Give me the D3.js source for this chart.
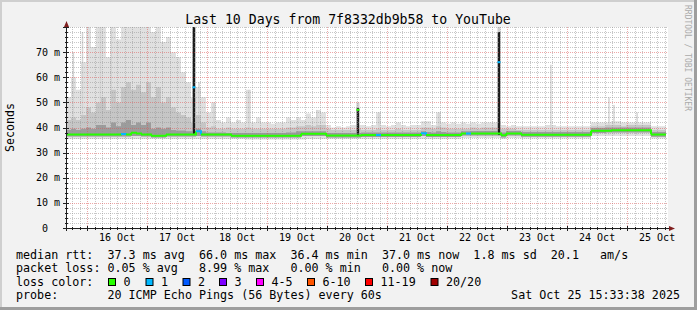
<!DOCTYPE html>
<html>
<head>
<meta charset="utf-8">
<script src="https://cdn.jsdelivr.net/npm/d3@7"></script>
<style>
  html, body { margin: 0; padding: 0; background: #f2f2f2; }
  svg { display: block; }
  text { font-family: "DejaVu Sans Mono", monospace; fill: #000; white-space: pre; }
</style>
</head>
<body>
<svg id="chart" width="697" height="310"></svg>
<script>
// ---- data (2 h buckets, 10 days ending Sat Oct 25 15:33:38 2025) ----
const endTime = new Date(2025, 9, 25, 15, 33, 38);
const bucketHours = 2;

// median rtt, ms
const medianRtt = [
  37.2, 37.2, 37.2, 37.2, 37.2, 37.2, 37.2, 37.2, 37.2, 37.2, 37.2, 37.4,
  37.2, 37.9, 37.6, 37.2, 37.2, 36.7, 36.7, 36.7, 37.2, 37.2, 37.2, 37.2,
  37.2, 37.2, 38.5, 37.2, 37.2, 37.2, 37.2, 37.2, 37.2, 36.7, 36.7, 36.7,
  36.7, 36.7, 36.7, 36.7, 36.7, 36.7, 36.7, 36.7, 36.7, 36.7, 36.7, 37.5,
  37.5, 37.5, 37.5, 37.5, 36.8, 36.8, 36.8, 36.8, 36.8, 36.8, 36.8, 37.0,
  37.0, 37.0, 37.0, 37.0, 37.0, 37.0, 37.0, 37.0, 37.0, 37.0, 37.0, 37.7,
  37.0, 37.0, 37.0, 37.0, 37.0, 37.0, 37.0, 37.6, 37.6, 37.6, 37.6, 37.6,
  37.6, 37.6, 37.6, 36.9, 37.6, 37.6, 37.6, 37.1, 37.1, 37.1, 37.1, 37.1,
  37.1, 37.1, 37.1, 37.1, 37.1, 37.1, 37.1, 37.1, 37.1, 38.7, 38.7, 38.7,
  38.7, 38.9, 38.9, 38.9, 38.9, 38.9, 38.9, 38.9, 38.9, 37.2, 37.2, 37.2
];

// lost pings per bucket (index into lossLabels)
const lossClass = [
  0, 0, 0, 0, 0, 0, 0, 0, 0, 0, 0, 1,
  0, 0, 0, 0, 0, 0, 0, 0, 0, 0, 0, 0,
  0, 0, 1, 0, 0, 0, 0, 0, 0, 0, 0, 0,
  0, 0, 0, 0, 0, 0, 0, 0, 0, 0, 0, 0,
  0, 0, 0, 0, 0, 0, 0, 0, 0, 0, 0, 0,
  0, 0, 1, 0, 0, 0, 0, 0, 0, 0, 0, 1,
  0, 0, 0, 0, 0, 0, 0, 0, 1, 0, 0, 0,
  0, 0, 0, 0, 0, 0, 0, 0, 0, 0, 0, 0,
  0, 0, 0, 0, 0, 0, 0, 0, 0, 0, 0, 0,
  0, 0, 0, 0, 0, 0, 0, 0, 0, 0, 0, 0
];

// smoke: slowest ping
const smokeMax = [
  52, 60, 55, 66, 80, 72, 80, 80, 68, 80, 75, 80,
  80, 80, 80, 80, 80, 78, 80, 74, 76, 70, 68, 62,
  58, 52, 56, 52, 46, 50, 43, 42, 44, 42, 43, 42,
  55, 42, 44, 42, 42, 41.5, 42, 42, 44, 43, 44, 43,
  45.6, 44, 47, 46, 41, 40, 40.5, 40, 40.5, 41, 41, 41,
  40.5, 41, 46, 41, 40.5, 41, 42, 41, 40.5, 41, 41, 42.5,
  42.5, 41, 46, 42, 41.5, 42, 41.5, 42, 41.5, 42, 41.5, 42,
  42, 42, 42, 41, 40.5, 41, 40.5, 40.5, 40.5, 40.5, 40.5, 40.5,
  41, 41, 40.5, 40.5, 40.5, 40.5, 40.5, 40.5, 40.5, 42, 42, 42,
  42, 42.5, 42.5, 42, 42, 42, 42, 42, 42, 40.5, 40.5, 40.5
];

// smoke: upper outer band
const smokeHigh = [
  43, 44, 43, 45, 48, 46, 50, 52, 47, 55, 50, 56,
  58, 55, 57, 54, 58, 52, 56, 50, 52, 48, 46, 45,
  44, 42, 45, 42, 40, 40.5, 39.5, 39.5, 40, 39.5, 39.5, 39.5,
  40, 39.5, 39.5, 39.5, 39.5, 39.5, 39.5, 39.5, 40, 40, 40.5, 40.5,
  41, 40.5, 41, 41, 39.5, 39, 39, 39, 39, 39, 39.5, 39,
  39, 39, 39.5, 39, 39, 39, 39.5, 39, 39, 39, 39, 40,
  40, 39.5, 40.5, 40, 39.5, 39.5, 39.5, 39.5, 39.5, 40, 39.5, 40,
  40, 40, 40, 39.5, 39.5, 39.5, 39, 39, 39, 39, 39, 39,
  39, 39, 39, 39, 39, 39, 39, 39, 39, 40.5, 40.5, 40.5,
  41, 41, 41, 40.5, 41, 41, 41, 41, 41, 39, 39, 39
];

// smoke: dense band around the median
const smokeUpper = [
  39, 39.5, 39, 39.5, 40, 39.5, 41, 41, 40, 42, 40.5, 42,
  43, 41, 42, 41, 42, 39.5, 40, 39.5, 40, 39, 38.8, 38.8,
  38.5, 38.5, 39.5, 38.5, 38, 38, 38, 38, 37.8, 37.8, 37.8, 37.8,
  37.8, 37.8, 37.8, 37.8, 37.8, 37.8, 37.8, 37.8, 38, 38, 38.5, 38.5,
  38.5, 38.5, 38.5, 38.5, 37.8, 37.8, 37.8, 37.8, 37.8, 37.8, 37.8, 38,
  38, 38, 38, 38, 38, 38, 38, 38, 38, 38, 38, 38.5,
  38.2, 38, 38.5, 38.2, 38, 38, 38, 38.5, 38.5, 38.6, 38.6, 38.6,
  38.6, 38.6, 38.6, 38, 38.6, 38.6, 38.6, 38.2, 38.2, 38.2, 38.2, 38.2,
  38.2, 38.2, 38.2, 38.2, 38.2, 38.2, 38.2, 38.2, 38.2, 39.8, 39.8, 39.8,
  40, 40, 40, 40, 40, 40, 40, 40, 40, 38.2, 38.2, 38.2
];

const smokeLower = [
  36.4, 36.4, 36.4, 36.4, 36.4, 36.4, 36.4, 36.4, 36.4, 36.4, 36.4, 36.4,
  36.4, 36.6, 36.6, 36.4, 36.4, 36, 36, 36, 36.4, 36.4, 36.4, 36.4,
  36.4, 36.4, 36.6, 36.4, 36.4, 36.4, 36.4, 36.4, 36.4, 36, 36, 36,
  36, 36, 36, 36, 36, 36, 36, 36, 36, 36, 36, 36.6,
  36.6, 36.6, 36.6, 36.6, 36, 36, 36, 36, 36, 36, 36, 36.2,
  36.2, 36.2, 36.2, 36.2, 36.2, 36.2, 36.2, 36.2, 36.2, 36.2, 36.2, 36.6,
  36.2, 36.2, 36.2, 36.2, 36.2, 36.2, 36.2, 36.8, 36.8, 36.8, 36.8, 36.8,
  36.8, 36.8, 36.8, 36, 36.8, 36.8, 36.8, 36.3, 36.3, 36.3, 36.3, 36.3,
  36.3, 36.3, 36.3, 36.3, 36.3, 36.3, 36.3, 36.3, 36.3, 37.8, 37.8, 37.8,
  38, 38, 38, 38, 38, 38, 38, 38, 38, 36.3, 36.3, 36.3
];

// smoke: fastest ping
const smokeMin = [
  35.4, 35.4, 35.4, 35.4, 35.4, 35.4, 35.4, 35.4, 35.4, 35.4, 35.4, 35.4,
  35.4, 35.4, 35.4, 35.4, 35.4, 35.4, 35.4, 35.4, 35.4, 35.4, 35.4, 35.4,
  35.4, 35.4, 35.4, 35.4, 35.4, 35.4, 35.4, 35.4, 35.4, 35.4, 35.4, 35.4,
  35.2, 35.2, 35.2, 35.2, 35.2, 35.2, 35.2, 35.2, 35.2, 35.2, 35.2, 35.2,
  35.4, 35.4, 35.4, 35.4, 35.4, 35.4, 35.4, 35.4, 35.4, 35.4, 35.4, 35.4,
  35.4, 35.4, 35.4, 35.4, 35.4, 35.4, 35.4, 35.4, 35.4, 35.4, 35.4, 35.4,
  35.4, 35.4, 35.4, 35.4, 35.4, 35.4, 35.4, 35.8, 35.8, 35.8, 35.8, 35.8,
  35.8, 35.8, 35.8, 35.4, 35.8, 35.8, 35.8, 35.6, 35.6, 35.6, 35.6, 35.6,
  35.6, 35.6, 35.6, 35.6, 35.6, 35.6, 35.6, 35.6, 35.6, 36.6, 36.6, 36.6,
  36.6, 36.6, 36.6, 36.6, 36.6, 36.6, 36.6, 36.6, 36.6, 35.6, 35.6, 35.6
];

// short bursts where all pings were slow
const spikeTimes = ["2025-10-17T18:45", "2025-10-20T12:20", "2025-10-22T20:45"];
const spikeDarkTop = [80, 47.7, 78];
const spikeLightTop = [80, 50, 80];
const spikeMedian = [56, 47, 66];
const spikeLoss = [1, 0, 1];

// single slow pings
const streakTimes = [
  "2025-10-15T18:30", "2025-10-15T22:10", "2025-10-16T05:20", "2025-10-16T09:40",
  "2025-10-17T20:45", "2025-10-18T02:45", "2025-10-18T16:45", "2025-10-19T19:55",
  "2025-10-20T20:45", "2025-10-21T20:45", "2025-10-23T17:30", "2025-10-24T16:45",
  "2025-10-24T18:45", "2025-10-25T04:00"
];
const streakTops = [70, 78, 80, 80, 58, 50, 55, 47, 46, 46, 65, 52, 49, 46];

const yTicks = [0, 10, 20, 30, 40, 50, 60, 70];

const lossLabels = ["0", "1", "2", "3", "4-5", "6-10", "11-19", "20/20"];
const lossColors = ["#26ff00", "#00b8ff", "#0059ff", "#7e00ff", "#ff00ff", "#ff5500", "#ff0000", "#a00000"];

const legendLines = [
  "median rtt:  37.3 ms avg  66.0 ms max  36.4 ms min  37.0 ms now  1.8 ms sd  20.1   am/s",
  "packet loss: 0.05 % avg   8.99 % max   0.00 % min   0.00 % now",
  "loss color:",
  "probe:       20 ICMP Echo Pings (56 Bytes) every 60s"
];
const stampText = "Sat Oct 25 15:33:38 2025";
const titleText = "Last 10 Days from 7f8332db9b58 to YouTube";

// ---- setup ----
const W = 697, H = 310;
const plotL = 66, plotR = 666, plotT = 27, plotB = 228;
const startTime = d3.timeDay.offset(endTime, -10);
const parse = d3.timeParse("%Y-%m-%dT%H:%M");

const x = d3.scaleTime().domain([startTime, endTime]).range([plotL, plotR]);
const y = d3.scaleLinear().domain([0, 80]).range([plotB, plotT]);
const bucketTime = (i) => d3.timeHour.offset(startTime, i * bucketHours);

const svg = d3.select("#chart");

// frame, rrdtool style
svg.append("rect").attr("width", W).attr("height", H).attr("fill", "#f2f2f2");
svg.append("rect").attr("x", 0).attr("y", 0).attr("width", W).attr("height", 2).attr("fill", "#cfcfcf");
svg.append("rect").attr("x", 0).attr("y", 0).attr("width", 2).attr("height", H).attr("fill", "#cfcfcf");
svg.append("rect").attr("x", 0).attr("y", H - 3).attr("width", W).attr("height", 3).attr("fill", "#9e9e9e");
svg.append("rect").attr("x", W - 3).attr("y", 0).attr("width", 3).attr("height", H).attr("fill", "#9e9e9e");

svg.append("rect")
  .attr("x", plotL).attr("y", plotT)
  .attr("width", plotR - plotL + 2).attr("height", plotB - plotT)
  .attr("fill", "#fff");

svg.append("clipPath").attr("id", "plotClip")
  .append("rect")
  .attr("x", plotL).attr("y", plotT)
  .attr("width", plotR - plotL).attr("height", plotB - plotT);

const plot = svg.append("g").attr("clip-path", "url(#plotClip)");

function band(lo, hi, fill) {
  const idx = d3.range(lo.length + 1);
  const at = (arr, i) => arr[Math.min(i, arr.length - 1)];
  const area = d3.area()
    .curve(d3.curveStepAfter)
    .x((i) => x(bucketTime(i)))
    .y0((i) => y(at(lo, i)))
    .y1((i) => y(Math.min(at(hi, i), 81)));
  plot.append("path").attr("d", area(idx)).attr("fill", fill);
}

// smoke layers, lightest first
band(smokeMin, smokeMax, "#e0e0e0");

plot.append("g").selectAll("rect")
  .data(streakTimes.map((t, i) => ({ t: parse(t), top: streakTops[i] })))
  .join("rect")
  .attr("x", (d) => x(d.t) - 0.75)
  .attr("width", 1.5)
  .attr("y", (d) => y(d.top))
  .attr("height", (d) => y(37) - y(d.top))
  .attr("fill", "#d4d4d4");

band(smokeLower, smokeHigh, "#c6c6c6");
band(smokeLower, smokeUpper, "#9c9c9c");

const spikes = spikeTimes.map((t, i) => ({
  t: parse(t), dark: spikeDarkTop[i], light: spikeLightTop[i],
  med: spikeMedian[i], loss: spikeLoss[i]
}));

plot.append("g").selectAll("rect")
  .data(spikes)
  .join("rect")
  .attr("x", (d) => x(d.t) - 1.5)
  .attr("width", 3)
  .attr("y", (d) => y(Math.min(d.light, 81)))
  .attr("height", (d) => y(37) - y(Math.min(d.light, 81)))
  .attr("fill", "#cfcfcf");

plot.append("g").selectAll("rect")
  .data(spikes)
  .join("rect")
  .attr("x", (d) => x(d.t) - 1.2)
  .attr("width", 2.4)
  .attr("y", (d) => y(Math.min(d.dark, 81)))
  .attr("height", (d) => y(37) - y(Math.min(d.dark, 81)))
  .attr("fill", "#1c1c1c");

// grid on top of the smoke
const grid = svg.append("g").attr("fill", "none").attr("stroke-dasharray", "1,1");
const minorY = d3.range(2, 81, 2).filter((v) => v % 10 !== 0 || v === 80);
const majorY = yTicks.filter((v) => v > 0);
const crisp = (v) => Math.round(v) + 0.5;

grid.selectAll("line.minor-y")
  .data(minorY)
  .join("line")
  .attr("class", "minor-y")
  .attr("x1", plotL).attr("x2", plotR + 2)
  .attr("y1", (d) => crisp(y(d))).attr("y2", (d) => crisp(y(d)))
  .attr("stroke", "rgba(143,143,143,0.5)");

const minorX = d3.timeHour.every(3).range(startTime, endTime)
  .filter((d) => d.getHours() !== 0);
const majorX = d3.timeDay.range(startTime, endTime);

grid.selectAll("line.minor-x")
  .data(minorX)
  .join("line")
  .attr("class", "minor-x")
  .attr("x1", (d) => crisp(x(d))).attr("x2", (d) => crisp(x(d)))
  .attr("y1", plotT).attr("y2", plotB)
  .attr("stroke", "rgba(143,143,143,0.5)");

grid.selectAll("line.major-y")
  .data(majorY)
  .join("line")
  .attr("class", "major-y")
  .attr("x1", plotL).attr("x2", plotR + 2)
  .attr("y1", (d) => crisp(y(d))).attr("y2", (d) => crisp(y(d)))
  .attr("stroke", "rgba(222,79,79,0.5)");

grid.selectAll("line.major-x")
  .data(majorX)
  .join("line")
  .attr("class", "major-x")
  .attr("x1", (d) => crisp(x(d))).attr("x2", (d) => crisp(x(d)))
  .attr("y1", plotT).attr("y2", plotB)
  .attr("stroke", "rgba(222,79,79,0.5)");

// median line, coloured by loss
const medianG = svg.append("g").attr("clip-path", "url(#plotClip)")
  .attr("fill", "none").attr("stroke-width", 2);

medianG.selectAll("path")
  .data(medianRtt.map((v, i) => i))
  .join("path")
  .attr("d", (i) => {
    const next = medianRtt[Math.min(i + 1, medianRtt.length - 1)];
    return `M${x(bucketTime(i))},${y(medianRtt[i])}H${x(bucketTime(i + 1))}V${y(next)}`;
  })
  .attr("stroke", (i) => lossColors[lossClass[i]]);

medianG.selectAll("line")
  .data(spikes)
  .join("line")
  .attr("x1", (d) => x(d.t) - 1.5).attr("x2", (d) => x(d.t) + 1.5)
  .attr("y1", (d) => y(d.med)).attr("y2", (d) => y(d.med))
  .attr("stroke", (d) => lossColors[d.loss]);

// axes
const axis = svg.append("g").attr("stroke", "#1f1f1f").attr("shape-rendering", "crispEdges");
axis.append("line").attr("x1", plotL + 0.5).attr("x2", plotL + 0.5).attr("y1", plotB + 3).attr("y2", 22);
axis.append("line").attr("x1", plotL - 3).attr("x2", 670).attr("y1", plotB + 0.5).attr("y2", plotB + 0.5);

axis.selectAll("line.ytick")
  .data(d3.range(0, 81, 2))
  .join("line")
  .attr("class", "ytick")
  .attr("x1", (d) => (d % 10 === 0 ? plotL - 3 : plotL - 1))
  .attr("x2", (d) => (d % 10 === 0 ? plotL + 3 : plotL + 2))
  .attr("y1", (d) => crisp(y(d))).attr("y2", (d) => crisp(y(d)));

axis.selectAll("line.xtick")
  .data(d3.timeHour.every(3).range(startTime, endTime))
  .join("line")
  .attr("class", "xtick")
  .attr("x1", (d) => crisp(x(d))).attr("x2", (d) => crisp(x(d)))
  .attr("y1", (d) => (d.getHours() === 0 ? plotB - 2 : plotB - 1))
  .attr("y2", (d) => (d.getHours() === 0 ? plotB + 3 : plotB + 2));

svg.append("path")
  .attr("d", `M${plotL - 2},27 L${plotL + 0.5},21 L${plotL + 3},27 Z`)
  .attr("fill", "#801f1f");
svg.append("path")
  .attr("d", `M669,${plotB - 2} L675,${plotB + 0.5} L669,${plotB + 3} Z`)
  .attr("fill", "#801f1f");

// labels
svg.selectAll("text.ylab")
  .data(yTicks)
  .join("text")
  .attr("class", "ylab")
  .attr("x", (d) => (d === 0 ? 48 : 60))
  .attr("y", (d) => y(d) + 3.5)
  .attr("text-anchor", "end")
  .attr("font-size", 10)
  .text((d) => (d === 0 ? "0" : `${d} m`));

const dayFmt = d3.timeFormat("%d %b");
svg.selectAll("text.xlab")
  .data(majorX)
  .join("text")
  .attr("class", "xlab")
  .attr("x", (d) => x(d3.timeHour.offset(d, 12)))
  .attr("y", 241)
  .attr("text-anchor", "middle")
  .attr("font-size", 10)
  .text(dayFmt);

svg.append("text")
  .attr("x", 348).attr("y", 23.5)
  .attr("text-anchor", "middle")
  .attr("font-size", 13.2)
  .text(titleText);

svg.append("text")
  .attr("transform", `translate(14,${(plotT + plotB) / 2}) rotate(-90)`)
  .attr("text-anchor", "middle")
  .attr("font-size", 11.6)
  .text("Seconds");

svg.append("text")
  .attr("transform", "translate(685,5) rotate(90)")
  .attr("font-size", 8)
  .style("fill", "#aaaaaa")
  .text("RRDTOOL / TOBI OETIKER");

// legend
const legend = svg.append("g").attr("font-size", 11.7);
const rows = [258.5, 272, 285.7, 299.3];

legend.selectAll("text.line")
  .data(legendLines)
  .join("text")
  .attr("class", "line")
  .attr("x", 16)
  .attr("y", (d, i) => rows[i])
  .text((d) => d);

legend.append("text")
  .attr("x", 680).attr("y", rows[3])
  .attr("text-anchor", "end")
  .text(stampText);

const swatchX = [108, 145.5, 182.5, 219, 256, 307, 365, 430.5];
legend.selectAll("rect")
  .data(lossLabels)
  .join("rect")
  .attr("x", (d, i) => swatchX[i] + 0.5)
  .attr("y", 278.5)
  .attr("width", 7).attr("height", 7)
  .attr("fill", (d, i) => lossColors[i])
  .attr("stroke", "#000");

legend.selectAll("text.loss")
  .data(lossLabels)
  .join("text")
  .attr("class", "loss")
  .attr("x", (d, i) => swatchX[i] + 15.5)
  .attr("y", rows[2])
  .text((d) => d);
</script>
</body>
</html>
